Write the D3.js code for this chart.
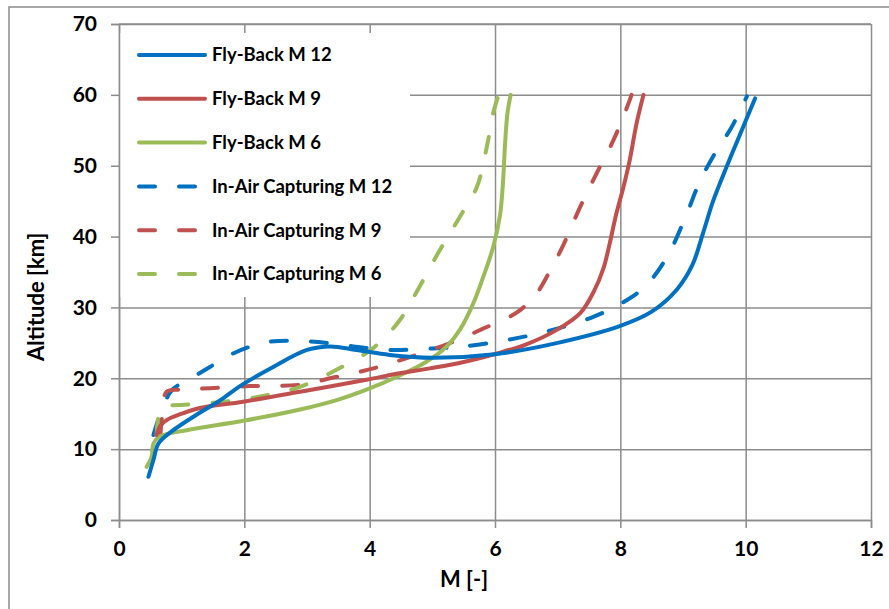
<!DOCTYPE html>
<html>
<head>
<meta charset="utf-8">
<script src="https://cdn.jsdelivr.net/npm/d3@7"></script>
<style>
  body { margin: 0; background: #fff; }
  text { font-family: Lato, "Open Sans", sans-serif; font-weight: bold; fill: #000; }
</style>
</head>
<body>
<script>
// data: [Mach, altitude km]
const flyBackM12 = [[0.47,6.1],[0.55,8.5],[0.63,10.8],[0.84,12.5],[1.3,15.2],[1.6,16.8],[1.95,19.0],[2.46,21.6],[3.0,24.0],[3.37,24.5],[3.79,24.0],[4.32,23.3],[5.0,22.9],[6.0,23.4],[7.0,25.0],[8.0,27.4],[8.5,29.4],[8.9,32.5],[9.15,36.0],[9.32,40.5],[9.48,45.0],[9.68,49.5],[9.9,54.2],[10.15,59.5]];
const flyBackM9 = [[0.6,12.0],[0.66,13.3],[0.76,14.1],[1.0,15.0],[1.29,15.8],[1.98,16.7],[2.89,18.1],[3.95,19.8],[4.48,20.7],[4.96,21.4],[5.5,22.3],[6.03,23.5],[6.5,24.8],[6.98,26.8],[7.36,29.2],[7.58,32.3],[7.73,35.5],[7.83,39.0],[7.93,43.0],[8.05,47.0],[8.15,50.8],[8.26,56.0],[8.37,60.0]];
const flyBackM6 = [[0.44,7.5],[0.52,8.9],[0.55,10.8],[0.65,11.8],[1.1,12.7],[1.98,14.0],[2.89,15.6],[3.5,17.0],[3.95,18.4],[4.48,20.4],[4.9,22.3],[5.23,24.5],[5.45,27.0],[5.65,30.5],[5.82,34.5],[5.97,38.5],[6.08,43.0],[6.13,48.0],[6.16,53.0],[6.2,57.5],[6.25,60.0]];
const inAirM12 = [[0.55,12.0],[0.64,14.5],[0.71,16.0],[0.84,18.3],[1.19,20.2],[1.45,21.6],[1.82,23.5],[2.36,25.1],[3.05,25.2],[3.74,24.5],[4.32,24.0],[5.0,24.2],[5.5,24.5],[6.19,25.4],[6.82,26.6],[7.52,28.5],[8.0,30.5],[8.4,33.0],[8.75,37.2],[9.05,43.0],[9.27,47.8],[9.54,52.2],[9.78,55.5],[10.02,59.8]];
const inAirM9 = [[0.66,12.0],[0.70,15.5],[0.76,18.1],[1.0,18.4],[1.45,18.6],[2.09,18.9],[2.89,19.1],[3.42,20.1],[4.06,21.4],[4.64,23.0],[5.23,24.8],[5.81,27.0],[6.35,29.3],[6.65,31.8],[6.88,35.2],[7.09,38.8],[7.36,44.2],[7.62,48.9],[7.89,53.6],[8.07,57.4],[8.18,60.0]];
const inAirM6 = [[0.60,12.0],[0.64,15.0],[0.72,16.2],[0.87,16.2],[1.56,16.6],[2.3,17.5],[2.89,18.8],[3.47,21.2],[4.06,24.3],[4.48,28.2],[4.8,33.0],[5.12,38.1],[5.44,42.8],[5.71,47.0],[5.87,52.7],[5.97,57.4],[6.05,59.8]];

const seriesNames = ['Fly-Back M 12', 'Fly-Back M 9', 'Fly-Back M 6', 'In-Air Capturing M 12', 'In-Air Capturing M 9', 'In-Air Capturing M 6'];
const seriesData = [flyBackM12, flyBackM9, flyBackM6, inAirM12, inAirM9, inAirM6];
const xTicks = [0, 2, 4, 6, 8, 10, 12];
const yTicks = [0, 10, 20, 30, 40, 50, 60, 70];

const colors = ['#0070C0', '#C0504D', '#9BBB59', '#0070C0', '#C0504D', '#9BBB59'];
const dashed = [false, false, false, true, true, true];

const width = 889, height = 609;
const margin = { top: 24, right: 18, bottom: 89, left: 119 };

const svg = d3.select('body').append('svg')
    .attr('width', width)
    .attr('height', height);

// outer chart frame (cropped at right and bottom)
svg.append('rect')
    .attr('x', 9).attr('y', 7)
    .attr('width', 940).attr('height', 700)
    .attr('fill', 'none')
    .attr('stroke', '#8c8c8c')
    .attr('stroke-width', 1.5);

const x = d3.scaleLinear().domain([0, 12]).range([margin.left, width - margin.right]);
const y = d3.scaleLinear().domain([0, 70]).range([height - margin.bottom, margin.top]);

// gridlines
svg.append('g')
    .attr('transform', `translate(0, ${y(0)})`)
    .call(d3.axisBottom(x).tickValues(xTicks).tickSize(-(y(0) - y(70))).tickFormat(''))
    .call(g => g.select('.domain').remove())
    .call(g => g.selectAll('line').attr('stroke', '#8c8c8c').attr('stroke-width', 1.5));

svg.append('g')
    .attr('transform', `translate(${x(0)}, 0)`)
    .call(d3.axisLeft(y).tickValues(yTicks).tickSize(-(x(12) - x(0))).tickFormat(''))
    .call(g => g.select('.domain').remove())
    .call(g => g.selectAll('line').attr('stroke', '#8c8c8c').attr('stroke-width', 1.5));

// legend background hides the gridlines behind it
svg.append('rect')
    .attr('x', x(0) + 1).attr('y', 33)
    .attr('width', 290).attr('height', 264)
    .attr('fill', '#fff');

// axes with outside ticks
const xAxis = svg.append('g')
    .attr('transform', `translate(0, ${y(0)})`)
    .call(d3.axisBottom(x).tickValues(xTicks).tickSize(8).tickPadding(13));
const yAxis = svg.append('g')
    .attr('transform', `translate(${x(0)}, 0)`)
    .call(d3.axisLeft(y).tickValues(yTicks).tickSize(8).tickPadding(14));

[xAxis, yAxis].forEach(a => {
    a.select('.domain').attr('stroke', '#8c8c8c').attr('stroke-width', 1.5);
    a.selectAll('line').attr('stroke', '#8c8c8c').attr('stroke-width', 1.5);
    a.selectAll('text').style('font-size', '21px');
});

// top frame of plot
svg.append('line')
    .attr('x1', x(0)).attr('x2', x(12)).attr('y1', y(70)).attr('y2', y(70))
    .attr('stroke', '#8c8c8c').attr('stroke-width', 1.5);

// lines
const line = d3.line()
    .x(d => x(d[0]))
    .y(d => y(d[1]))
    .curve(d3.curveCatmullRom.alpha(0.5));

const order = [3, 4, 5, 2, 1, 0];
order.forEach(i => {
    svg.append('path')
        .datum(seriesData[i])
        .attr('fill', 'none')
        .attr('stroke', colors[i])
        .attr('stroke-width', 4)
        .attr('stroke-linecap', 'round')
        .attr('stroke-dasharray', dashed[i] ? '16,24' : null)
        .attr('d', line);
});

// legend
const legend = svg.append('g');
seriesNames.forEach((name, i) => {
    const ly = 55 + i * 43.8;
    legend.append('line')
        .attr('x1', 139).attr('x2', dashed[i] ? 195 : 205)
        .attr('y1', ly).attr('y2', ly)
        .attr('stroke', colors[i])
        .attr('stroke-width', 4)
        .attr('stroke-linecap', 'round')
        .attr('stroke-dasharray', dashed[i] ? '16,24' : null);
    legend.append('text')
        .attr('x', 212).attr('y', ly)
        .attr('dy', '0.35em')
        .style('font-size', '18.5px')
        .text(name);
});

// axis titles
svg.append('text')
    .attr('x', 464).attr('y', 587)
    .attr('text-anchor', 'middle')
    .style('font-size', '22px')
    .text('M [-]');

svg.append('text')
    .attr('transform', `translate(44, ${y(31.5)}) rotate(-90)`)
    .attr('text-anchor', 'middle')
    .style('font-size', '22px')
    .text('Altitude [km]');
</script>
</body>
</html>
